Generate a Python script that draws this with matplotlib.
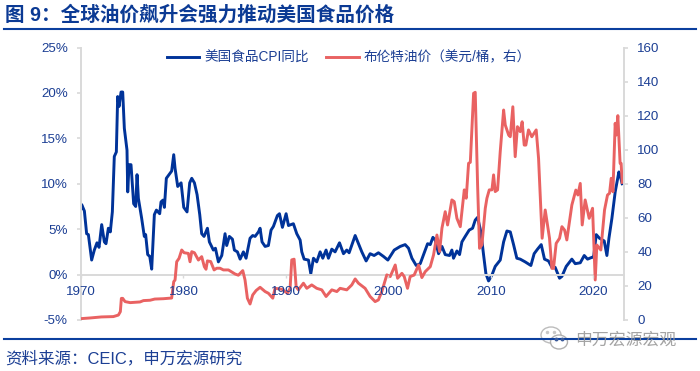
import matplotlib
matplotlib.use("Agg")
import matplotlib.pyplot as plt
from matplotlib.patches import Ellipse

plt.rcParams['font.family'] = ['Liberation Sans', 'Noto Sans CJK SC']
plt.rcParams['axes.unicode_minus'] = False

# values
cpi_years = [1970.0, 1970.07, 1970.33, 1970.55, 1970.72, 1971.04, 1971.3, 1971.56, 1971.76, 1972.02,
             1972.28, 1972.44, 1972.67, 1972.86, 1973.06, 1973.25, 1973.45, 1973.58, 1973.71, 1973.91,
             1974.07, 1974.23, 1974.49, 1974.56, 1974.69, 1974.88, 1975.14, 1975.34, 1975.47, 1975.6,
             1975.92, 1976.18, 1976.31, 1976.51, 1976.71, 1976.9, 1977.03, 1977.16, 1977.36, 1977.68,
             1977.81, 1978.0, 1978.14, 1978.33, 1978.66, 1978.85, 1979.05, 1979.18, 1979.44, 1979.77,
             1980.03, 1980.35, 1980.61, 1980.81, 1981.07, 1981.33, 1981.59, 1981.78, 1982.01, 1982.34,
             1982.53, 1982.92, 1983.12, 1983.41, 1983.74, 1984.06, 1984.22, 1984.48, 1984.78, 1984.97,
             1985.27, 1985.53, 1985.85, 1986.11, 1986.5, 1986.76, 1986.99, 1987.32, 1987.48, 1987.67,
             1987.97, 1988.29, 1988.55, 1988.78, 1989.17, 1989.37, 1989.66, 1990.02, 1990.25, 1990.73,
             1991.06, 1991.39, 1991.55, 1991.78, 1992.2, 1992.43, 1992.69, 1993.01, 1993.34, 1993.6,
             1993.92, 1994.15, 1994.48, 1994.8, 1995.23, 1995.62, 1995.94, 1996.17, 1996.76, 1997.08,
             1997.41, 1997.83, 1998.22, 1998.61, 1999.03, 1999.52, 1999.95, 2000.18, 2000.57, 2001.16,
             2001.64, 2001.97, 2002.3, 2002.72, 2003.11, 2003.44, 2003.83, 2004.09, 2004.35, 2004.57,
             2004.9, 2005.23, 2005.55, 2005.97, 2006.2, 2006.36, 2006.69, 2006.95, 2007.18, 2007.5,
             2007.89, 2008.22, 2008.48, 2008.71, 2009.03, 2009.29, 2009.52, 2009.78, 2010.11, 2010.43,
             2010.92, 2011.25, 2011.57, 2011.9, 2012.22, 2012.54, 2012.87, 2013.35, 2013.91, 2014.23,
             2014.56, 2014.92, 2015.24, 2015.63, 2015.96, 2016.28, 2016.71, 2016.94, 2017.36, 2017.91,
             2018.24, 2018.73, 2019.12, 2019.44, 2019.87, 2020.03, 2020.29, 2020.61, 2021.07, 2021.33,
             2021.53, 2021.82, 2022.14, 2022.5, 2022.65, 2022.82]
cpi_values = [7.3, 7.7, 7.0, 4.5, 4.4, 1.6, 2.7, 3.5, 3.0, 5.5,
              3.6, 3.4, 5.1, 4.7, 6.9, 13.0, 13.5, 19.6, 18.5, 20.1,
              20.1, 16.1, 13.7, 9.1, 12.1, 12.1, 7.8, 7.5, 11.0, 8.4,
              6.2, 4.2, 4.4, 2.2, 2.0, 0.6, 3.6, 6.6, 7.1, 6.7,
              8.0, 8.2, 7.4, 10.6, 11.1, 11.4, 13.2, 11.7, 9.7, 10.1,
              7.4, 6.9, 10.1, 10.6, 10.1, 8.8, 6.6, 4.5, 4.2, 5.1,
              3.6, 2.7, 2.9, 1.4, 2.1, 4.5, 3.2, 4.2, 3.9, 2.7,
              2.5, 1.7, 2.5, 1.8, 4.0, 4.3, 4.2, 4.7, 5.1, 3.6,
              3.1, 3.2, 4.9, 5.3, 6.5, 6.7, 5.2, 6.7, 5.4, 5.6,
              4.5, 3.8, 2.5, 1.7, 1.6, 0.1, 1.8, 1.4, 2.5, 1.8,
              2.7, 1.8, 2.8, 2.5, 3.5, 2.3, 2.7, 2.4, 4.3, 3.4,
              2.5, 1.5, 2.3, 2.1, 2.4, 2.0, 1.6, 2.0, 2.7, 3.1,
              3.3, 2.9, 1.8, 1.0, 1.2, 2.2, 3.4, 3.3, 4.1, 3.8,
              2.3, 3.1, 2.2, 2.1, 2.7, 1.8, 2.6, 2.2, 3.6, 4.2,
              4.9, 5.1, 6.0, 6.3, 4.7, 2.2, 0.1, -0.7, -0.05, 0.9,
              1.6, 3.6, 4.8, 4.7, 3.3, 1.8, 1.7, 1.4, 1.0, 2.3,
              2.8, 3.3, 1.7, 1.5, 0.8, 0.8, -0.4, -0.2, 0.9, 1.7,
              1.2, 1.3, 2.1, 1.7, 1.9, 1.9, 4.4, 4.0, 3.7, 2.1,
              4.0, 6.2, 9.1, 11.3, 10.8, 10.0]

brent_years = [1970.0, 1970.9, 1972.0, 1973.16, 1973.65, 1973.84, 1973.94, 1974.07, 1974.3, 1974.8,
               1975.76, 1976.1, 1976.74, 1977.2, 1978.04, 1978.85, 1979.05, 1979.18, 1979.34, 1979.57,
               1979.83, 1980.06, 1980.48, 1980.64, 1980.81, 1981.07, 1981.46, 1981.78, 1982.04, 1982.2,
               1982.34, 1982.66, 1982.99, 1983.25, 1983.57, 1983.9, 1984.39, 1985.04, 1985.36, 1985.79,
               1986.01, 1986.24, 1986.5, 1986.76, 1987.09, 1987.48, 1987.97, 1988.29, 1988.72, 1988.94,
               1989.6, 1990.15, 1990.41, 1990.57, 1990.8, 1991.0, 1991.22, 1991.71, 1992.04, 1992.52,
               1993.01, 1993.5, 1993.92, 1994.48, 1994.97, 1995.29, 1995.94, 1996.43, 1996.76, 1997.08,
               1997.73, 1998.22, 1998.71, 1999.03, 1999.36, 1999.85, 2000.18, 2000.67, 2000.9, 2001.32,
               2001.55, 2001.87, 2002.13, 2002.52, 2002.95, 2003.27, 2003.6, 2004.09, 2004.41, 2004.74,
               2005.0, 2005.23, 2005.55, 2005.78, 2006.2, 2006.43, 2006.69, 2007.02, 2007.41, 2007.6,
               2007.83, 2008.0, 2008.32, 2008.48, 2008.71, 2008.9, 2009.13, 2009.46, 2009.62, 2009.85,
               2010.11, 2010.27, 2010.43, 2010.66, 2010.92, 2011.25, 2011.41, 2011.74, 2011.9, 2012.15,
               2012.38, 2012.6, 2012.87, 2013.06, 2013.26, 2013.42, 2013.68, 2014.0, 2014.43, 2014.66,
               2014.82, 2015.01, 2015.31, 2015.73, 2015.96, 2016.12, 2016.38, 2016.71, 2016.94, 2017.2,
               2017.42, 2017.91, 2018.3, 2018.5, 2018.73, 2018.92, 2019.21, 2019.6, 2019.93, 2020.19,
               2020.35, 2020.74, 2021.1, 2021.39, 2021.59, 2021.75, 2021.92, 2022.14, 2022.24, 2022.4,
               2022.62, 2022.72, 2022.82]
brent_values = [0.8, 1.2, 1.8, 2.0, 2.9, 4.9, 12.7, 12.7, 10.8, 10.2,
                10.6, 11.4, 11.6, 12.3, 12.5, 12.9, 22.5, 23.5, 34.2, 36.2,
                41.1, 39.5, 39.1, 34.2, 40.1, 39.5, 35.2, 37.2, 31.3, 29.8,
                34.7, 34.3, 29.4, 30.4, 30.4, 29.4, 29.4, 27.0, 26.3, 29.0,
                23.5, 12.8, 9.4, 14.7, 17.3, 19.2, 16.7, 15.7, 12.8, 18.6,
                18.1, 15.7, 18.6, 35.3, 35.7, 19.6, 17.7, 21.6, 18.6, 20.6,
                18.6, 17.7, 13.8, 17.7, 16.7, 18.6, 17.7, 20.6, 24.1, 21.6,
                18.6, 13.8, 10.8, 11.8, 16.7, 26.5, 25.5, 32.3, 24.5, 27.4,
                25.5, 18.6, 25.5, 26.4, 32.3, 24.9, 28.4, 31.3, 38.2, 49.9,
                40.2, 53.9, 63.6, 55.8, 70.5, 69.5, 59.7, 54.8, 76.4, 71.5,
                92.0, 92.6, 133.1, 133.7, 79.3, 42.1, 44.1, 65.6, 71.5, 76.4,
                76.4, 85.2, 75.4, 76.4, 98.9, 123.3, 114.5, 108.6, 107.6, 125.2,
                95.9, 113.5, 110.6, 116.4, 102.7, 102.7, 111.6, 107.6, 111.6, 94.9,
                73.4, 48.0, 64.6, 48.0, 30.3, 30.3, 45.0, 48.0, 54.8, 52.8,
                47.0, 67.5, 76.3, 73.4, 80.2, 55.8, 70.5, 59.7, 65.6, 23.5,
                44.0, 41.1, 64.6, 73.4, 74.4, 83.2, 75.3, 115.5, 108.6, 120.0,
                92.0, 92.0, 80.8]

left_ticks = [-5, 0, 5, 10, 15, 20, 25]
left_labels = ['-5%', '0%', '5%', '10%', '15%', '20%', '25%']
right_ticks = [0, 20, 40, 60, 80, 100, 120, 140, 160]
year_ticks = [1970, 1980, 1990, 2000, 2010, 2020]

NAVY = '#003399'
RED = '#e96262'
TEXT = '#1c3f94'
GREY = '#d9d9d9'

W, H = 700, 371
fig = plt.figure(figsize=(7, 3.71), dpi=100)
ax = fig.add_axes([81 / W, 1 - 320 / H, (624 - 81) / W, (320 - 47.5) / H])

ax.plot(cpi_years, cpi_values, color=NAVY, lw=2.1, solid_joinstyle='round', label='美国食品CPI同比')
ax.set_xlim(1970, 2023)
ax.set_ylim(-5, 25)
ax.set_yticks(left_ticks)
ax.set_yticklabels(left_labels)
ax.tick_params(axis='y', colors=GREY, labelcolor=TEXT, labelsize=9.6, length=3, width=1.2, pad=6.5)
for side in ['top', 'right']:
    ax.spines[side].set_visible(False)
ax.spines['left'].set_color(GREY)
ax.spines['left'].set_linewidth(1.4)
ax.spines['bottom'].set_position(('data', 0))
ax.spines['bottom'].set_color(GREY)
ax.spines['bottom'].set_linewidth(1.4)

# oil on the right scale, year labels sit on this axes so they stay above the lines
ax2 = ax.twinx()
ax2.plot(brent_years, brent_values, color=RED, lw=2.1, solid_joinstyle='round', label='布伦特油价（美元/桶，右）')
ax2.set_ylim(0, 160)
ax2.set_yticks(right_ticks)
ax2.tick_params(axis='y', colors=GREY, labelcolor=TEXT, labelsize=9.6, length=3, width=1.2, pad=6.5)
ax2.set_axisbelow(False)
ax2.xaxis.set_visible(True)
ax2.spines['bottom'].set_position(('data', 160 * 5 / 30))
ax2.spines['bottom'].set_visible(False)
ax2.set_xticks(year_ticks)
ax2.tick_params(axis='x', colors=GREY, labelcolor=TEXT, labelsize=9.6, length=2.5, width=1, pad=6)
ax.tick_params(axis='x', bottom=False, labelbottom=False)
for side in ['top', 'left']:
    ax2.spines[side].set_visible(False)
ax2.spines['right'].set_color(GREY)
ax2.spines['right'].set_linewidth(1.4)

handles = ax.get_lines() + ax2.get_lines()
leg = ax2.legend(handles, [h.get_label() for h in handles], ncol=2, frameon=False,
                 loc='center left', bbox_to_anchor=(0.145, 0.964), fontsize=9.8,
                 handlelength=2.4, handletextpad=0.35, columnspacing=1.3, borderpad=0, labelcolor=TEXT)

# page furniture in pixel coordinates
over = fig.add_axes([0, 0, 1, 1], zorder=5)
over.set_xlim(0, W)
over.set_ylim(H, 0)
over.axis('off')
over.text(5, 15, '图 9：全球油价飙升会强力推动美国食品价格', fontsize=14.1, fontweight='bold',
          color='#0b3a94', va='center', ha='left')
over.plot([4, 696], [29, 29], color='#0b3f9e', lw=1.5)
over.plot([4, 696], [339, 339], color='#0b3f9e', lw=1.5)
over.text(5, 359, '资料来源：CEIC，申万宏源研究', fontsize=11.9, color=TEXT, va='center', ha='left')

# wechat watermark
over.add_patch(Ellipse((551, 335), 20, 16, fc='white', ec='#b5b5b5', lw=1, alpha=0.9))
over.add_patch(Ellipse((559, 342), 17, 14, fc='white', ec='#a8a8a8', lw=1, alpha=0.9))
over.plot([556, 562], [339, 339], ls='none', marker='o', ms=1.8, color='#3a5a9a')
over.plot([547, 554], [332, 332], ls='none', marker='o', ms=1.5, color='#c8c8c8')
over.text(575, 340, '申万宏源宏观', fontsize=12.2, color='#9a9a9a', va='center', ha='left', alpha=0.9)

fig.savefig('out.png', dpi=100)
